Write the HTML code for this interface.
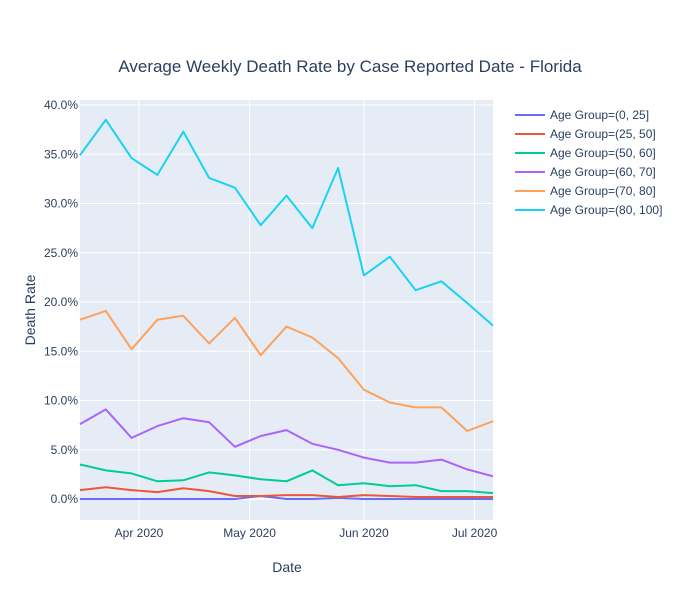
<!DOCTYPE html>
<html><head><meta charset="utf-8"><style>
body{margin:0;background:#fff;font-family:"Liberation Sans",sans-serif;}
svg text{font-family:"Liberation Sans",sans-serif;fill:#2a3f5f;}
</style></head><body>
<svg id="chart" width="700" height="600" xmlns="http://www.w3.org/2000/svg">
<rect width="700" height="600" fill="#fff"/>
<rect x="80" y="100" width="413" height="420" fill="#e5ecf6"/>
<g id="grid"></g><g id="series"></g><g id="ticks"></g><g id="legend"></g>
<text x="350" y="72" text-anchor="middle" font-size="17">Average Weekly Death Rate by Case Reported Date - Florida</text>
<text x="287" y="572" text-anchor="middle" font-size="14">Date</text>
<text transform="translate(35,310) rotate(-90)" text-anchor="middle" font-size="14">Death Rate</text>
</svg>
<script>
const startDate = "2020-03-16";
const groups = ["Age Group=(0, 25]","Age Group=(25, 50]","Age Group=(50, 60]","Age Group=(60, 70]","Age Group=(70, 80]","Age Group=(80, 100]"];
const colors = ["#636efa","#EF553B","#00cc96","#ab63fa","#FFA15A","#19d3f3"];
const s0 = [0,0,0,0,0,0,0,0.3,0,0,0.1,0,0,0,0,0,0];
const s1 = [0.9,1.2,0.9,0.7,1.1,0.8,0.3,0.3,0.4,0.4,0.2,0.4,0.3,0.2,0.2,0.2,0.2];
const s2 = [3.5,2.9,2.6,1.8,1.9,2.7,2.4,2.0,1.8,2.9,1.4,1.6,1.3,1.4,0.8,0.8,0.6];
const s3 = [7.6,9.1,6.2,7.4,8.2,7.8,5.3,6.4,7.0,5.6,5.0,4.2,3.7,3.7,4.0,3.0,2.3];
const s4 = [18.2,19.1,15.2,18.2,18.6,15.8,18.4,14.6,17.5,16.4,14.3,11.1,9.8,9.3,9.3,6.9,7.9];
const s5 = [34.9,38.5,34.6,32.9,37.3,32.6,31.6,27.8,30.8,27.5,33.6,22.7,24.6,21.2,22.1,19.9,17.6];
const series = [s0,s1,s2,s3,s4,s5];
const yTicks = [0,5,10,15,20,25,30,35,40];
const xTickDates = ["2020-04-01","2020-05-01","2020-06-01","2020-07-01"];
const xTickLabels = ["Apr 2020","May 2020","Jun 2020","Jul 2020"];
const NS="http://www.w3.org/2000/svg";
const day=86400000, t0=Date.parse(startDate);
function xDays(d){return 80 + d*(413/112);}
function xDate(s){return xDays((Date.parse(s)-t0)/day);}
function y(v){return 499 - v*(394/40);}
function mk(tag,attrs,parent){const e=document.createElementNS(NS,tag);for(const k in attrs)e.setAttribute(k,attrs[k]);document.getElementById(parent).appendChild(e);return e;}
yTicks.forEach(v=>{
  const l=mk("line",{x1:80,x2:493,y1:y(v),y2:y(v),stroke:"#fff","stroke-width":v===0?2:1},"grid");
  
  
  const t=mk("text",{x:78,y:y(v)+4,"text-anchor":"end","font-size":12},"ticks");
  t.textContent=v.toFixed(1)+"%";
  
  
});
xTickDates.forEach((d,i)=>{
  const x=xDate(d);
  const l=mk("line",{x1:x,x2:x,y1:100,y2:520,stroke:"#fff","stroke-width":1},"grid");
  
  
  const t=mk("text",{x:x,y:537,"text-anchor":"middle","font-size":12},"ticks");
  t.textContent=xTickLabels[i];
  
  
});
series.forEach((s,gi)=>{
  const pts=s.map((v,i)=>xDays(i*7).toFixed(1)+","+y(v).toFixed(1)).join(" ");
  const p=mk("polyline",{points:pts,fill:"none",stroke:colors[gi],"stroke-width":2,"stroke-linejoin":"round"},"series");
  
  
  const ly=115+gi*19;
  const ll=mk("line",{x1:515,x2:545,y1:ly,y2:ly,stroke:colors[gi],"stroke-width":2},"legend");
  
  
  const lt=mk("text",{x:550,y:ly+4,"font-size":12},"legend");
  lt.textContent=groups[gi];
  
  
});
</script>
</body></html>
